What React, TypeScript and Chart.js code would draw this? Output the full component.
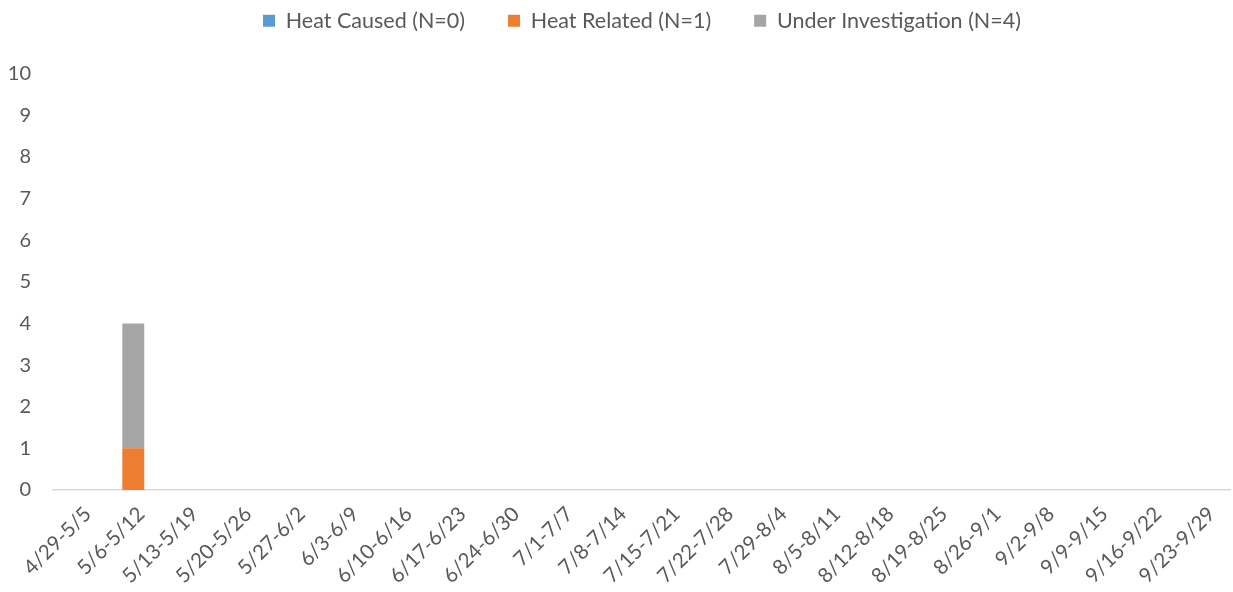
import React, { useEffect, useRef } from "react";
import { Chart, registerables } from "chart.js";

Chart.register(...registerables);

const categories = [
  "4/29-5/5", "5/6-5/12", "5/13-5/19", "5/20-5/26", "5/27-6/2", "6/3-6/9",
  "6/10-6/16", "6/17-6/23", "6/24-6/30", "7/1-7/7", "7/8-7/14", "7/15-7/21",
  "7/22-7/28", "7/29-8/4", "8/5-8/11", "8/12-8/18", "8/19-8/25", "8/26-9/1",
  "9/2-9/8", "9/9-9/15", "9/16-9/22", "9/23-9/29",
];
const heatCaused = [0, 0, 0, 0, 0, 0, 0, 0, 0, 0, 0, 0, 0, 0, 0, 0, 0, 0, 0, 0, 0, 0];
const heatRelated = [0, 1, 0, 0, 0, 0, 0, 0, 0, 0, 0, 0, 0, 0, 0, 0, 0, 0, 0, 0, 0, 0];
const underInvestigation = [0, 3, 0, 0, 0, 0, 0, 0, 0, 0, 0, 0, 0, 0, 0, 0, 0, 0, 0, 0, 0, 0];
const seriesLabels = ["Heat Caused (N=0)", "Heat Related (N=1)", "Under Investigation (N=4)"];

const FONT = "Lato, 'Open Sans', sans-serif";
const TEXT = "#595959";

const legendSpacer = {
  id: "legendSpacer",
  beforeLayout(chart: any) {
    const lg = chart.legend;
    if (lg && !lg.__patched) {
      const origFit = lg.fit;
      lg.fit = function () {
        origFit.call(this);
        this.height += 32;
      };
      const origDraw = lg.draw;
      lg.draw = function () {
        const ctx = this.ctx;
        ctx.save();
        ctx.translate(26, 0);
        origDraw.call(this);
        ctx.restore();
      };
      lg.__patched = true;
    }
  },
};

export default function App() {
  const ref = useRef<HTMLCanvasElement | null>(null);
  useEffect(() => {
    if (!ref.current) return;
    const chart = new Chart(ref.current, {
      type: "bar",
      data: {
        labels: categories,
        datasets: [
          { label: seriesLabels[0], data: heatCaused, backgroundColor: "#5B9BD5" },
          { label: seriesLabels[1], data: heatRelated, backgroundColor: "#ED7D31" },
          { label: seriesLabels[2], data: underInvestigation, backgroundColor: "#A5A5A5" },
        ],
      },
      options: {
        animation: false,
        responsive: false,
        maintainAspectRatio: false,
        layout: { padding: { top: 0, right: 1, left: 0, bottom: 0 } },
        datasets: { bar: { barPercentage: 0.41, categoryPercentage: 1 } },
        plugins: {
          legend: {
            position: "top",
            labels: {
              color: TEXT,
              font: { family: FONT, size: 21.5 },
              boxWidth: 12,
              boxHeight: 12,
              padding: 10,
              generateLabels: (c: any) => {
                const items = Chart.defaults.plugins.legend.labels.generateLabels(c);
                return items.map((it: any, i: number) => ({
                  ...it,
                  text: i < items.length - 1 ? it.text + "      " : it.text,
                }));
              },
            },
          },
          tooltip: { enabled: false },
        },
        scales: {
          x: {
            stacked: true,
            grid: { display: false, drawTicks: false },
            border: { display: true, color: "#D9D9D9", width: 1.5 },
            ticks: {
              color: TEXT,
              font: { family: FONT, size: 20.5 },
              minRotation: 45,
              maxRotation: 45,
              autoSkip: false,
              padding: 12,
              labelOffset: 8,
            },
            afterFit: (s: any) => { s.height = 102; },
          },
          y: {
            stacked: true,
            min: 0,
            max: 10,
            grid: { display: false, drawTicks: false },
            border: { display: false },
            ticks: {
              stepSize: 1,
              color: TEXT,
              font: { family: FONT, size: 20 },
              padding: 22,
            },
            afterFit: (s: any) => { s.width = 53; },
          },
        },
      },
      plugins: [legendSpacer],
    });
    return () => chart.destroy();
  }, []);
  return (
    <div style={{ position: "absolute", left: 0, top: 0, width: 1233, height: 592, background: "#fff" }}>
      <canvas ref={ref} width={1233} height={592} />
    </div>
  );
}
